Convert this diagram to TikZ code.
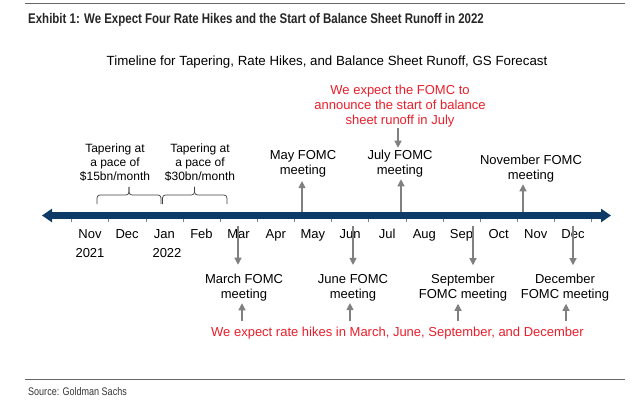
\documentclass[tikz,border=0pt]{standalone}
\usepackage{fontspec}
\setmainfont{Liberation Sans}
\newfontfamily\narrowfont[FakeStretch=0.82,BoldFeatures={FakeStretch=0.82}]{Liberation Sans}
\usetikzlibrary{positioning,arrows.meta,calc}
\definecolor{barblue}{RGB}{13,58,102}
\definecolor{gsred}{RGB}{232,30,42}
\definecolor{arrgray}{RGB}{128,128,128}
\tikzset{
	lbl/.style={align=center,font=\fontsize{13}{15}\selectfont,inner sep=1pt},
	mon/.style={font=\fontsize{13}{15}\selectfont,inner sep=0pt,anchor=base},
	taper/.style={align=center,font=\fontsize{12}{14}\selectfont,inner sep=1pt},
	note/.style={lbl,text=gsred},
	up/.style={draw=arrgray,line width=1.2pt,-{Triangle[width=7pt,length=7pt]}},
	brk/.style={draw=black!75,line width=.7pt,rounded corners=3pt}
}

\begin{document}
\begin{tikzpicture}[x=1pt,y=-1pt]
	\useasboundingbox (0,0) rectangle (634,406);
	\def\bary{215.5}
	\def\xz{90}
	\def\dx{37.15}
	\draw[black!60,line width=1pt] (25,4) -- (625,4);
	\draw[black!60,line width=1pt] (25,379) -- (625,379);
	\node[anchor=west,inner sep=0pt,font=\narrowfont\bfseries\fontsize{14}{16}\selectfont,text=black!85] (title) at (28,20) {Exhibit 1: We Expect Four Rate Hikes and the Start of Balance Sheet Runoff in 2022};
	\node[lbl,font=\fontsize{13.3}{15}\selectfont] (sub) at (327,62) {Timeline for Tapering, Rate Hikes, and Balance Sheet Runoff, GS Forecast};
	\node[anchor=west,inner sep=0pt,font=\narrowfont\fontsize{11}{13}\selectfont,text=black!80] (src) at (28,392) {Source: Goldman Sachs};

	%ticks and bar
	\foreach \k in {0,...,14}{
		\draw[arrgray,line width=.6pt] ({71.5+\dx*\k},\bary) -- ++(0,6.5);
	}
	\draw[barblue,line width=7pt,{Triangle[width=13pt,length=10pt]}-{Triangle[width=13pt,length=10pt]}] (42,\bary) -- (611,\bary);

	%months
	\foreach \m [count=\i from 0] in {Nov,Dec,Jan,Feb,Mar,Apr,May,Jun,Jul,Aug,Sep,Oct,Nov,Dec}{
		\node[mon] (m\i) at ({\xz+\dx*\i},238) {\m};
	}
	\node[mon] (y21) at (90,257) {2021};
	\node[mon] (y22) at (167,257) {2022};

	%tapering
	\node[taper] (tap1) at (115,162.5) {Tapering at\\a pace of\\\$15bn/month};
	\node[taper] (tap2) at (200,162.5) {Tapering at\\a pace of\\\$30bn/month};
	\foreach \a/\t/\b in {97/129/161,162.5/194.5/227}{
		\draw[brk] (\a,204) |- (\t,195) -- (\t,187);
		\draw[brk] (\b,204) |- (\t,195) -- (\t,187);
	}

	%meetings above
	\node[lbl] (may) at (303,163.5) {May FOMC\\meeting};
	\node[lbl] (jul) at (400,163.5) {July FOMC\\meeting};
	\node[lbl] (nov) at (531,168.5) {November FOMC\\meeting};
	\node[note] (runoff) at (400,106) {We expect the FOMC to\\announce the start of balance\\sheet runoff in July};
	\coordinate (pmay) at (302,212);
	\coordinate (pjul) at (401,212);
	\coordinate (pnov) at (523,212);
	\draw[up,shorten >=3pt] (pmay) -- (pmay |- may.south);
	\draw[up,shorten >=1pt] (pjul) -- (pjul |- jul.south);
	\draw[up,shorten >=1pt] (pnov) -- (pnov |- nov.south);
	\draw[up,shorten >=1pt] ($(runoff.south)+(-2,0)$) -- ($(runoff.south |- jul.north)+(-2,0)$);

	%meetings below
	\node[lbl] (mar) at (244,287.5) {March FOMC\\meeting};
	\node[lbl] (jun) at (353,287.5) {June FOMC\\meeting};
	\node[lbl] (sep) at (463,288) {September\\FOMC meeting};
	\node[lbl] (dec) at (565,288) {December\\FOMC meeting};
	\node[note] (hikes) at (397.5,333) {We expect rate hikes in March, June, September, and December};
	\foreach \n/\xd/\xu in {mar/238/242,jun/353/350,sep/473/458,dec/573/566}{
		\coordinate (d\n) at (\xd,226);
		\coordinate (h\n) at (\xu,321);
		\draw[up,shorten >=8pt] (d\n) -- (d\n |- \n.north);
		\draw[up,shorten >=1pt] (h\n) -- (h\n |- \n.south);
	}
\end{tikzpicture}
\end{document}
